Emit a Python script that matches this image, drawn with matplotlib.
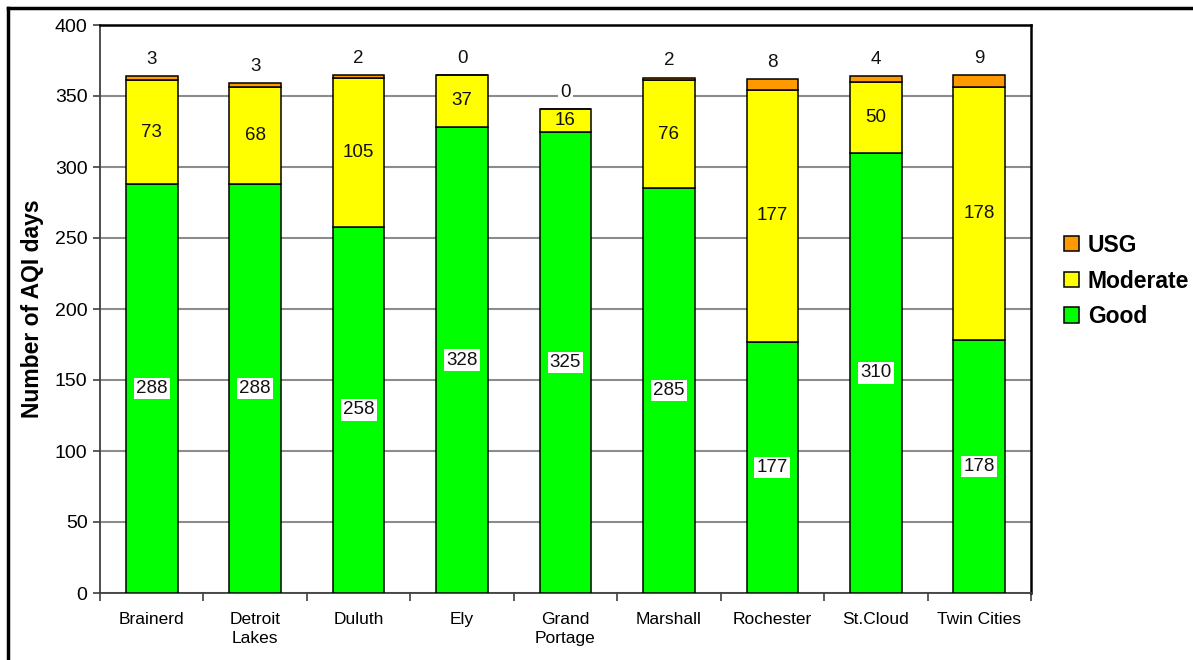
import matplotlib.pyplot as plt
import numpy as np
from matplotlib.lines import Line2D

plt.rcParams['font.family'] = ['Liberation Sans', 'DejaVu Sans']

# AQI day counts per site
sites = ['Brainerd', 'Detroit\nLakes', 'Duluth', 'Ely', 'Grand\nPortage',
         'Marshall', 'Rochester', 'St.Cloud', 'Twin Cities']
good = [288, 288, 258, 328, 325, 285, 177, 310, 178]
moderate = [73, 68, 105, 37, 16, 76, 177, 50, 178]
usg = [3, 3, 2, 0, 0, 2, 8, 4, 9]

c_good = '#00ff00'
c_mod = '#ffff00'
c_usg = '#ff9900'

fig = plt.figure(figsize=(11.93, 6.6), dpi=100)
ax = fig.add_axes([100 / 1193, 1 - 593 / 660, 931 / 1193, 568 / 660])

x = np.arange(len(sites))
good = np.array(good)
moderate = np.array(moderate)
usg = np.array(usg)

w = 0.5
b1 = ax.bar(x, good, w, color=c_good, edgecolor='black', linewidth=1.1, label='Good', zorder=3)
b2 = ax.bar(x, moderate, w, bottom=good, color=c_mod, edgecolor='black', linewidth=1.1,
            label='Moderate', zorder=3)
b3 = ax.bar(x, usg, w, bottom=good + moderate, color=c_usg, edgecolor='black', linewidth=1.1,
            label='USG', zorder=3)

# value labels
for i in range(len(sites)):
    ax.text(x[i], good[i] / 2, str(good[i]), ha='center', va='center', fontsize=13.5,
            color='#111111', zorder=5,
            bbox=dict(boxstyle='square,pad=0.12', fc='white', ec='none'))
    ax.text(x[i], good[i] + moderate[i] / 2, str(moderate[i]), ha='center', va='center',
            fontsize=13.5, color='#111111', zorder=5)
    top = good[i] + moderate[i] + usg[i]
    ax.annotate(str(usg[i]), (x[i], top), xytext=(0, 12), textcoords='offset points',
                ha='center', va='center', fontsize=13.5, color='#111111', zorder=5,
                bbox=dict(boxstyle='square,pad=0.1', fc='white', ec='none'))

ax.set_ylim(0, 400)
ax.set_yticks(range(0, 401, 50))
ax.set_xlim(-0.5, len(sites) - 0.5)
ax.set_xticks(x)
ax.set_xticklabels(sites, fontsize=12.5, linespacing=1.3)
ax.set_xticks(np.arange(-0.5, len(sites), 1), minor=True)
ax.tick_params(axis='x', which='major', length=0, pad=14)
ax.tick_params(axis='x', which='minor', length=6, width=1.2, color='#404040', direction='out')
ax.tick_params(axis='y', labelsize=14, length=5, width=1.2, color='#404040', pad=4)

ax.yaxis.grid(True, color='#8c8c8c', linewidth=1.5, zorder=0)
ax.set_axisbelow(True)

for s in ['left', 'bottom']:
    ax.spines[s].set_color('#404040')
    ax.spines[s].set_linewidth(1.3)
for s in ['top', 'right']:
    ax.spines[s].set_color('black')
    ax.spines[s].set_linewidth(1.8)

ax.set_ylabel('Number of AQI days', fontsize=16.5, fontweight='bold', labelpad=8)

fig.legend(handles=[b3, b2, b1], labels=['USG', 'Moderate', 'Good'],
           loc='center left', bbox_to_anchor=(1043 / 1193, 1 - 281 / 660),
           frameon=False, prop={'size': 16.5, 'weight': 'bold'},
           handlelength=0.65, handleheight=0.65, handletextpad=0.4, labelspacing=0.55)

# outer frame (top and left edges)
fig.add_artist(Line2D([8 / 1193, 1], [1 - 8 / 660, 1 - 8 / 660], color='black', lw=2.5,
                      transform=fig.transFigure))
fig.add_artist(Line2D([8 / 1193, 8 / 1193], [0, 1 - 8 / 660], color='black', lw=2.5,
                      transform=fig.transFigure))

fig.savefig('out.png', dpi=100, facecolor='white')
